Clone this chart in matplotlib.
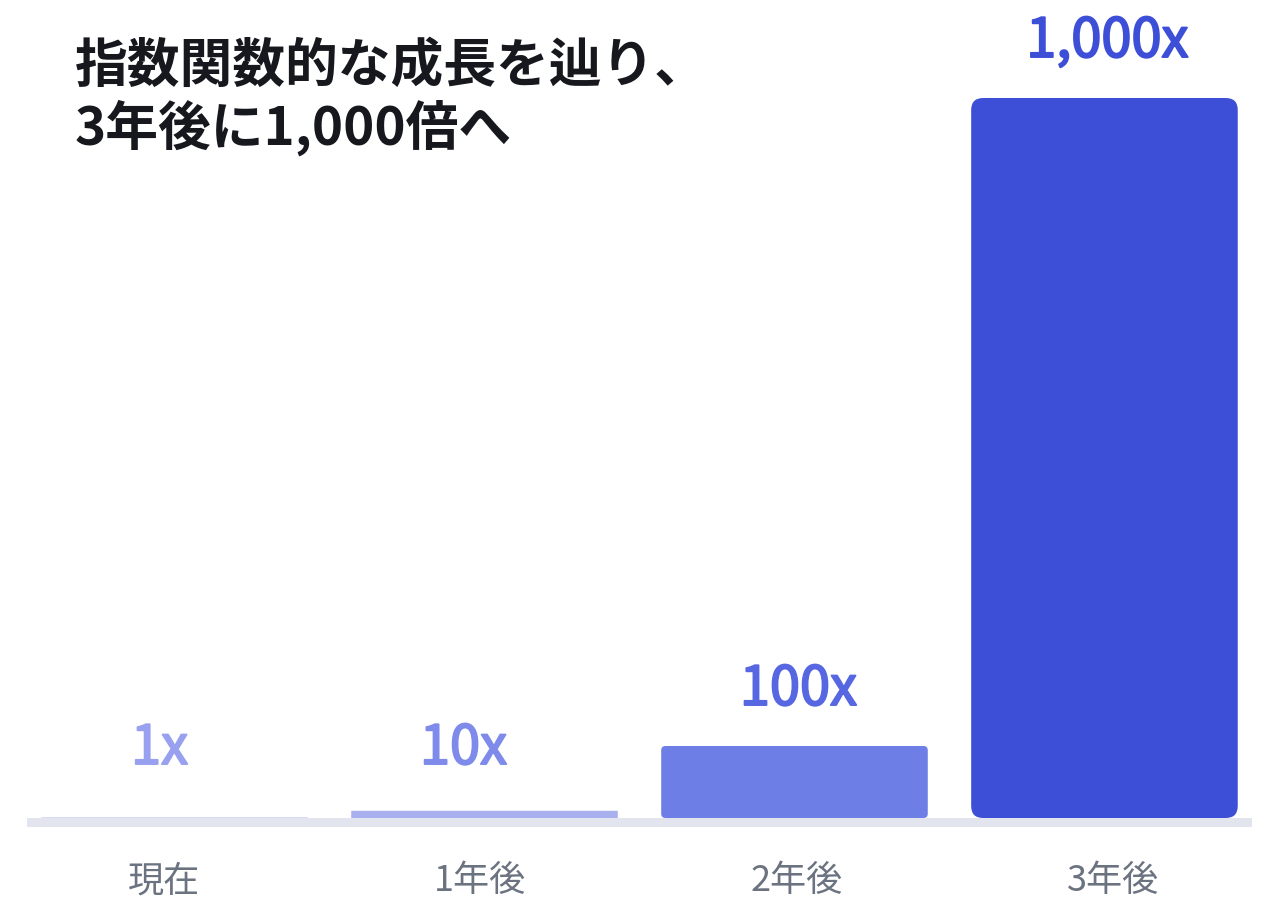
import matplotlib
matplotlib.use("Agg")
import matplotlib.pyplot as plt
import matplotlib.patheffects as pe
from matplotlib.patches import FancyBboxPatch, Rectangle

plt.rcParams['font.family'] = ['Noto Sans CJK JP', 'DejaVu Sans']

# growth multiples per period
periods = ["現在", "1年後", "2年後", "3年後"]
multiples = [1, 10, 100, 1000]
value_labels = ["1x", "10x", "100x", "1,000x"]

bar_colors = ["#C8CEF5", "#A8B1EE", "#6D7FE7", "#3D4FD7"]
label_colors = ["#97A1EF", "#7E8BEA", "#5667E1", "#3D4FD7"]

title = "指数関数的な成長を辿り、\n3年後に1,000倍へ"

W, H = 1262, 901
fig = plt.figure(figsize=(W / 100, H / 100), dpi=100)
fig.patch.set_facecolor("white")

# axes spans the plotting band, y=0 sits on top of the grey base line
ax = fig.add_axes([27 / W, (H - 818) / H, 1225 / W, 720 / H])
ax.set_xlim(-0.476, 3.476)
ax.set_ylim(0, 1000)
for s in ax.spines.values():
    s.set_visible(False)
ax.set_yticks([])
# category labels sit on a slightly wider grid than the bars
ax.set_xticks([-0.034 + 1.0203 * i for i in range(len(periods))])
ax.set_xticklabels(periods, fontsize=26, color="#6B7280")
ax.tick_params(axis="x", length=0, pad=32.5)

# pixel size of one data unit, used for rounded corners and label offsets
p0 = ax.transData.transform((0, 0))
p1 = ax.transData.transform((1, 1))
px_x = p1[0] - p0[0]
px_y = p1[1] - p0[1]

label_nudge = [-15, -21, 4, 3]  # px

bar_w = 0.86
for i, v in enumerate(multiples):
    h_px = v * px_y
    r_px = min(12, max(0.05, h_px * 0.06))
    box = FancyBboxPatch((i - bar_w / 2, 0), bar_w, v,
                         boxstyle=f"round,pad=0,rounding_size={r_px / px_x}",
                         mutation_aspect=(r_px / px_y) / (r_px / px_x),
                         facecolor=bar_colors[i], edgecolor="none", zorder=2)
    ax.add_patch(box)

    off_px = 41 + max(0, 13 - h_px)
    # regular weight thickened a bit to get a medium look
    ax.annotate(value_labels[i], xy=(i, v),
                xytext=(label_nudge[i] * 0.72, off_px * 0.72),
                textcoords="offset points", ha="center", va="baseline",
                fontsize=39, color=label_colors[i], annotation_clip=False,
                path_effects=[pe.withStroke(linewidth=1.4,
                                            foreground=label_colors[i])])

# grey base line under the bars
fig.add_artist(Rectangle((27 / W, (H - 827) / H), 1225 / W, 9 / H,
                         transform=fig.transFigure, facecolor="#E2E4EE",
                         edgecolor="none", zorder=1))

fig.text(75 / W, 1 - 40 / H, title, ha="left", va="top", fontsize=38,
         fontweight="bold", color="#16181D", linespacing=1.15)

fig.savefig("out.png", dpi=100)
